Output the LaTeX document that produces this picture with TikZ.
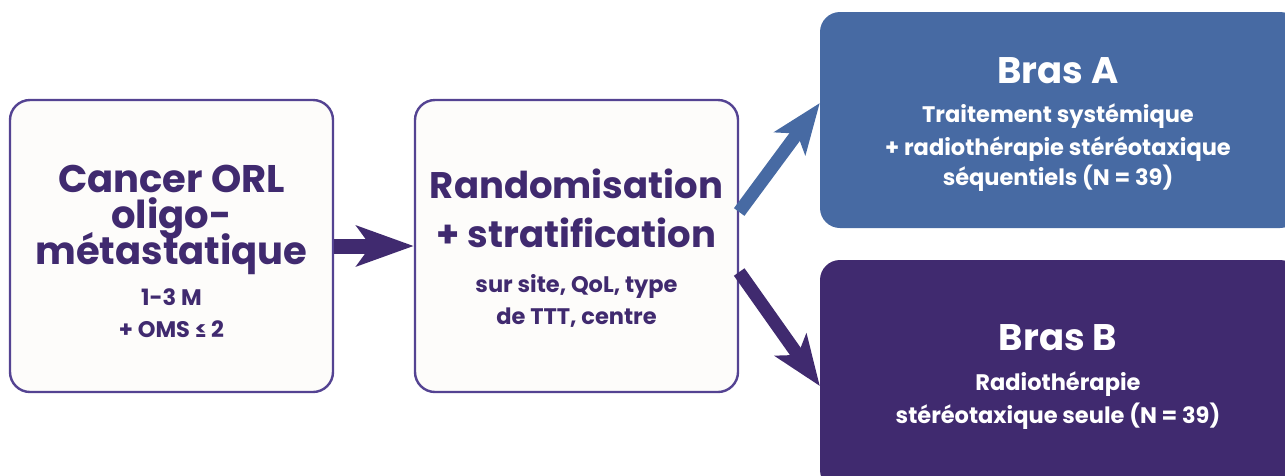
\documentclass[tikz,border=0pt]{standalone}
\usepackage{fontspec}
\setmainfont{Poppins}
\usetikzlibrary{arrows.meta}

\definecolor{deepviolet}{HTML}{402A6F}
\definecolor{frameviolet}{HTML}{544392}
\definecolor{armblue}{HTML}{476AA3}
\definecolor{paper}{HTML}{FDFCFA}

\tikzset{
  stagebox/.style={draw=frameviolet, line width=2.4pt, fill=paper,
    rounded corners=20pt, inner sep=0pt},
  armbox/.style={rounded corners=20pt, inner sep=0pt, draw=none},
  lbl/.style={anchor=base, inner sep=0pt, text=deepviolet},
  wlbl/.style={anchor=base, inner sep=0pt, text=white},
  big/.style={font=\bfseries\fontsize{38.5}{38}\selectfont},
  bigger/.style={font=\bfseries\fontsize{37}{37}\selectfont},
  small/.style={font=\bfseries\fontsize{22.5}{22}\selectfont},
  flow/.style={line width=15pt, -{Stealth[length=57pt, width=40pt, inset=14pt]}},
  branch/.style={line width=13pt, -{Stealth[length=50pt, width=38pt, inset=12pt]}},
}

\begin{document}
\begin{tikzpicture}[x=1pt, y=-1pt]
\useasboundingbox (0,0) rectangle (1285,475);
\clip (0,0) rectangle (1285,475);

% stages
\node[stagebox, minimum width=323pt, minimum height=292pt] (start) at (171.5,246) {};
\node[stagebox, minimum width=323pt, minimum height=292pt] (rando) at (576.5,246) {};

% treatment arms (run past the right and bottom edges)
\node[armbox, fill=armblue, minimum width=480pt, minimum height=216pt] (armA) at (1060,120) {};
\node[armbox, fill=deepviolet, minimum width=480pt, minimum height=230pt] (armB) at (1060,375) {};

% connectors
\draw[flow, draw=deepviolet] (start.east) -- (rando.west);
\draw[branch, draw=armblue] ([yshift=34pt]rando.east) -- ([yshift=17pt]armA.west);
\draw[branch, draw=deepviolet] ([yshift=-26pt]rando.east) -- ([yshift=-11pt]armB.west);

% first stage text
\node[lbl, big] (s1) at (171.5,192) {Cancer ORL};
\node[lbl, big] (s2) at (171.5,228) {oligo-};
\node[lbl, big] (s3) at (171.5,264) {métastatique};
\node[lbl, small] (s4) at (171.5,305) {1-3 M};
\node[lbl, small] (s5) at (171.5,337) {+ OMS ≤ 2};

% randomisation text
\node[lbl, bigger] (r1) at (576.5,198) {Randomisation};
\node[lbl, bigger] (r2) at (576.5,247) {+ stratification};
\node[lbl, small] (r3) at (576.5,292) {sur site, QoL, type};
\node[lbl, small] (r4) at (576.5,324) {de TTT, centre};

% arm A text
\node[wlbl, bigger] (a1) at (1058,83) {Bras A};
\node[wlbl, small] (a2) at (1058,122) {Traitement systémique};
\node[wlbl, small] (a3) at (1058,155) {+ radiothérapie stéréotaxique};
\node[wlbl, small] (a4) at (1058,185) {séquentiels (N = 39)};

% arm B text
\node[wlbl, bigger] (b1) at (1058,350) {Bras B};
\node[wlbl, small] (b2) at (1058,390) {Radiothérapie};
\node[wlbl, small] (b3) at (1058,423) {stéréotaxique seule (N = 39)};
\end{tikzpicture}
\end{document}
